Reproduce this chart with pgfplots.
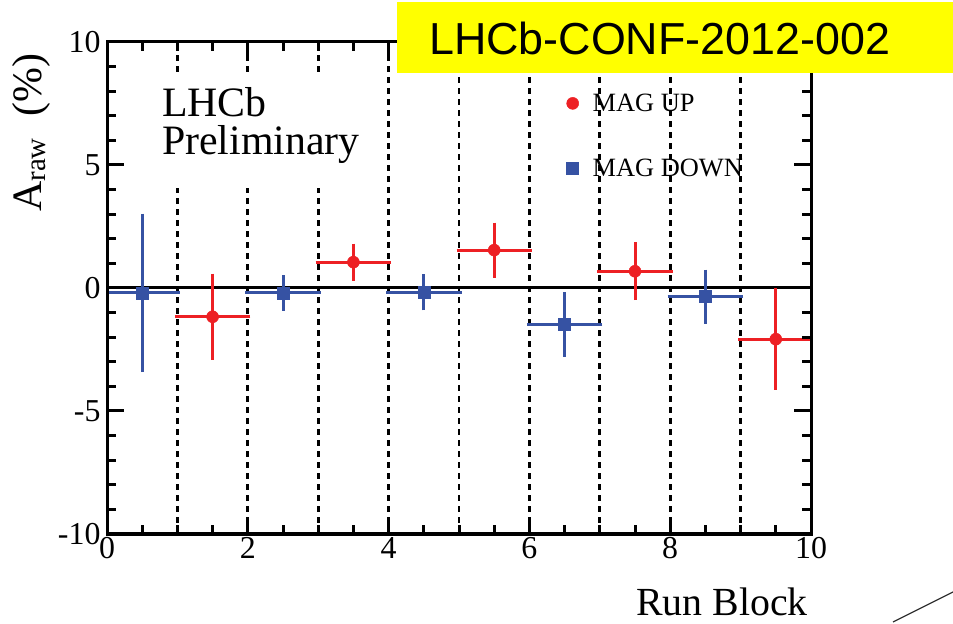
\documentclass[border=0pt]{standalone}
\usepackage{pgfplots}
\usepackage{pgfplotstable}
\pgfplotsset{compat=1.18}
\usepackage{fontspec}
\setmainfont{Liberation Serif}
\newfontfamily\sansf{Liberation Sans}
\definecolor{rootred}{RGB}{237,32,36}
\definecolor{rootblue}{RGB}{54,82,163}
\definecolor{yel}{RGB}{255,255,0}

\pgfplotstableread{
x y ex ey
1.5 -1.17 0.5 1.65
3.5 1.05 0.5 0.65
5.5 1.54 0.5 1.02
7.5 0.68 0.5 1.07
9.5 -2.08 0.5 1.96
}\magup
\pgfplotstableread{
x y ex ey
0.5 -0.20 0.5 3.12
2.5 -0.20 0.5 0.62
4.5 -0.18 0.5 0.63
6.5 -1.48 0.5 1.21
8.5 -0.35 0.5 1.00
}\magdown

\begin{document}
\begin{tikzpicture}
\begin{axis}[
  at={(107bp,90bp)}, anchor=south west,
  width=704bp, height=492bp, scale only axis,
  xmin=0, xmax=10, ymin=-10, ymax=10,
  xtick={0,2,...,10}, ytick={-10,-5,...,10},
  minor x tick num=3, minor y tick num=4,
  xtick pos=both, ytick pos=both, tick align=inside,
  major tick length=17bp, minor tick length=9bp,
  axis line style={line width=3bp},
  every tick/.style={black, line width=3bp},
  /pgf/number format/assume math mode=true,
  xticklabel={\pgfmathprintnumber{\tick}},
  yticklabel={\pgfmathprintnumber{\tick}},
  tick label style={font=\fontsize{32}{32}\selectfont},
  yticklabel style={xshift=-3bp},
  axis on top,
  legend style={draw=none, fill=none, inner sep=0pt,
    at={(axis cs:6.527,7.98)}, anchor=north west,
    font=\fontsize{26.5}{30}\selectfont, row sep=42bp,
    /tikz/every odd column/.append style={column sep=12bp}},
  legend cell align=left,
  legend image code/.code={\draw[#1] plot coordinates {(0bp,0bp)};},
]
% block separators
\addplot[forget plot, black, line width=2.7bp, dash pattern=on 6bp off 5bp] coordinates {(1,-10) (1,10)};
\addplot[forget plot, black, line width=2.7bp, dash pattern=on 6bp off 5bp] coordinates {(2,-10) (2,10)};
\addplot[forget plot, black, line width=2.7bp, dash pattern=on 6bp off 5bp] coordinates {(3,-10) (3,10)};
\addplot[forget plot, black, line width=2.7bp, dash pattern=on 6bp off 5bp] coordinates {(4,-10) (4,10)};
\addplot[forget plot, black, line width=2.7bp, dash pattern=on 6bp off 5bp] coordinates {(5,-10) (5,10)};
\addplot[forget plot, black, line width=2.7bp, dash pattern=on 6bp off 5bp] coordinates {(6,-10) (6,10)};
\addplot[forget plot, black, line width=2.7bp, dash pattern=on 6bp off 5bp] coordinates {(7,-10) (7,10)};
\addplot[forget plot, black, line width=2.7bp, dash pattern=on 6bp off 5bp] coordinates {(8,-10) (8,10)};
\addplot[forget plot, black, line width=2.7bp, dash pattern=on 6bp off 5bp] coordinates {(9,-10) (9,10)};
% zero line
\addplot[forget plot, black, line width=3bp] coordinates {(0,0) (10,0)};
% data
\addplot[only marks, mark=*, mark size=6bp, color=rootred,
  mark options={line width=0.5bp, fill=rootred},
  error bars/.cd, x dir=both, x explicit, y dir=both, y explicit,
  error bar style={line width=3bp, rootred},
  error mark options={line width=3bp, mark size=2.5bp, rootred}]
  table[x=x, y=y, x error=ex, y error=ey] {\magup};
\addlegendentry{MAG UP}
\addplot[only marks, mark=square*, mark size=6bp, color=rootblue,
  mark options={line width=0.5bp, fill=rootblue},
  error bars/.cd, x dir=both, x explicit, y dir=both, y explicit,
  error bar style={line width=3bp, rootblue},
  error mark options={line width=3bp, mark size=2.5bp, rootblue}]
  table[x=x, y=y, x error=ex, y error=ey] {\magdown};
\addlegendentry{MAG DOWN}
% white label box
\fill[white] (axis cs:0.05,8.8) rectangle (axis cs:3.9,4.07);
\node[anchor=base west, inner sep=0pt, font=\fontsize{42}{42}\selectfont] at (axis cs:0.78,6.98) {LHCb};
\node[anchor=base west, inner sep=0pt, font=\fontsize{42}{42}\selectfont] at (axis cs:0.78,5.42) {Preliminary};
\end{axis}
% axis titles
\node[rotate=90, anchor=base west, inner sep=0pt, font=\fontsize{42}{42}\selectfont]
  at (41bp,412bp) {A\raisebox{-4bp}{\fontsize{29}{29}\selectfont raw}\hspace{22bp}(\%)};
\node[anchor=base east, inner sep=0pt, font=\fontsize{40}{40}\selectfont] at (808bp,9bp) {Run Block};
% conference tag
\fill[yel] (397bp,551bp) rectangle (960bp,622bp);
\node[anchor=base west, inner sep=0pt, font=\sansf\fontsize{45}{45}\selectfont] at (429bp,569bp) {LHCb-CONF-2012-002};
\draw[black!80, line width=1.2bp] (893bp,2bp) -- (953bp,32bp);
\pgfresetboundingbox
\useasboundingbox (0,0) rectangle (953bp,624bp);
\end{tikzpicture}
\end{document}
